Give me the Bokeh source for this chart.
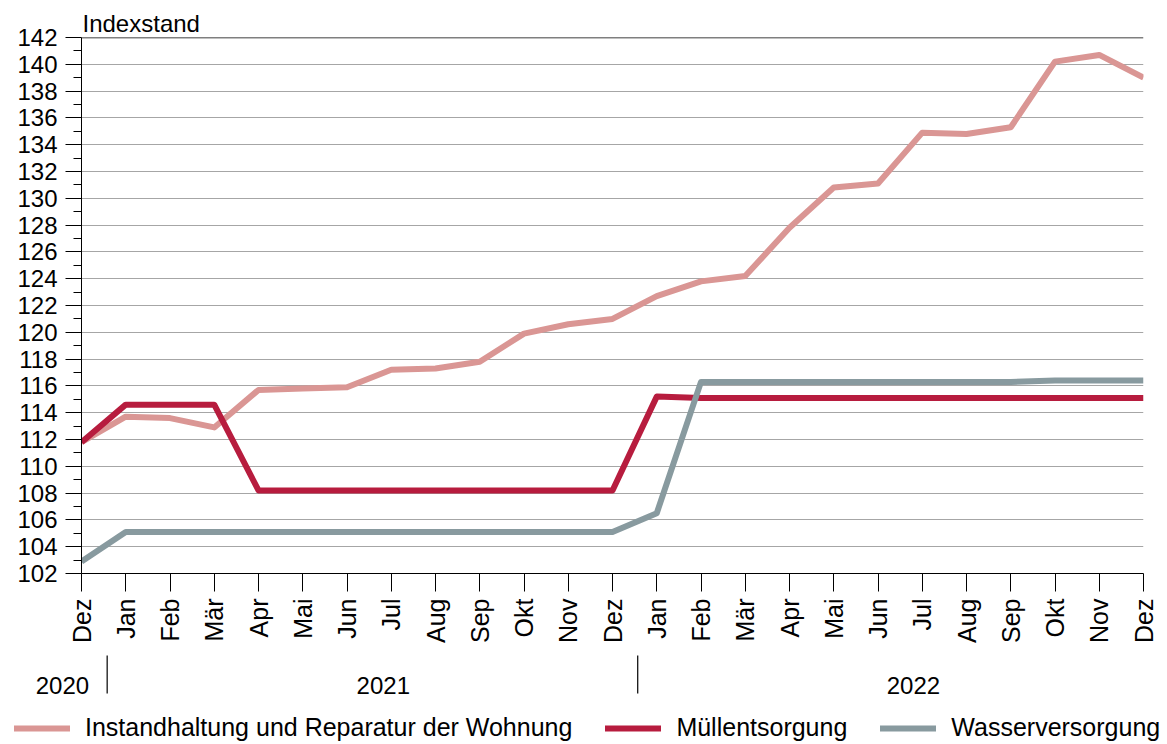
import math
from bokeh.plotting import figure
from bokeh.models import (Range1d, FixedTicker, Legend, LegendItem, Span, LinearAxis, Grid)
from bokeh.core.properties import value
from bokeh.embed import file_html
from bokeh.resources import INLINE

months = ["Dez", "Jan", "Feb", "Mär", "Apr", "Mai", "Jun", "Jul", "Aug", "Sep", "Okt", "Nov",
          "Dez", "Jan", "Feb", "Mär", "Apr", "Mai", "Jun", "Jul", "Aug", "Sep", "Okt", "Nov", "Dez"]
years = ["2020", "2021", "2022"]
y_ticks = [102, 104, 106, 108, 110, 112, 114, 116, 118, 120, 122, 124, 126, 128, 130,
           132, 134, 136, 138, 140, 142]

instandhaltung = [111.8, 113.7, 113.6, 112.9, 115.7, 115.8, 115.9, 117.2, 117.3, 117.8,
                  119.9, 120.6, 121.0, 122.7, 123.8, 124.2, 127.8, 130.8, 131.1, 134.9,
                  134.8, 135.3, 140.2, 140.7, 139.0]
muell = [111.8, 114.6, 114.6, 114.6, 108.2, 108.2, 108.2, 108.2, 108.2, 108.2, 108.2, 108.2,
         108.2, 115.2, 115.1, 115.1, 115.1, 115.1, 115.1, 115.1, 115.1, 115.1, 115.1, 115.1, 115.1]
wasser = [102.9, 105.1, 105.1, 105.1, 105.1, 105.1, 105.1, 105.1, 105.1, 105.1, 105.1, 105.1,
          105.1, 106.5, 116.3, 116.3, 116.3, 116.3, 116.3, 116.3, 116.3, 116.3, 116.4, 116.4, 116.4]

names = ["Instandhaltung und Reparatur der Wohnung", "Müllentsorgung", "Wasserversorgung"]
colors = ["#DA9694", "#B71C3E", "#889A9F"]
series = [instandhaltung, muell, wasser]

FONT = "Liberation Sans"

x = list(range(len(months)))

W = 1167
FL, FR, FT, FB = 81, 1143, 37, 573   # frame edges on the page
H1 = 648
H2 = 744 - H1

p = figure(width=W, height=H1, output_backend="svg", toolbar_location=None,
           x_range=Range1d(0, len(months) - 1), y_range=Range1d(y_ticks[0], y_ticks[-1]),
           min_border_left=FL, min_border_right=W - FR, min_border_top=FT,
           min_border_bottom=H1 - FB, x_axis_type=None, y_axis_type=None)
p.outline_line_color = None

p.title.text = "Indexstand"
p.title.align = "left"
p.title.text_font = FONT
p.title.text_font_size = "24px"
p.title.text_font_style = "normal"
p.title.text_color = "black"
p.title.standoff = 2
p.title.offset = 1

# y axis
yax = LinearAxis(ticker=FixedTicker(ticks=y_ticks, minor_ticks=[v + 1 for v in y_ticks[:-1]]))
yax.major_tick_out = 16
yax.major_tick_in = 0
yax.minor_tick_out = 8
yax.minor_tick_in = 0
yax.axis_line_color = "black"
yax.major_tick_line_color = "black"
yax.minor_tick_line_color = "black"
yax.major_label_text_font = FONT
yax.major_label_text_font_size = "24px"
yax.major_label_text_color = "black"
yax.major_label_standoff = 8
p.add_layout(yax, "left")

# x axis
xax = LinearAxis(ticker=FixedTicker(ticks=x, minor_ticks=[]))
xax.major_label_overrides = {i: m for i, m in enumerate(months)}
xax.major_label_orientation = math.pi / 2
xax.major_tick_out = 18
xax.major_tick_in = 0
xax.axis_line_color = "black"
xax.major_tick_line_color = "black"
xax.major_label_text_font = FONT
xax.major_label_text_font_size = "25px"
xax.major_label_text_color = "black"
xax.major_label_standoff = 7
p.add_layout(xax, "below")

g = Grid(dimension=1, ticker=FixedTicker(ticks=y_ticks[1:-1]))
g.grid_line_color = "#A6A6A6"
g.grid_line_width = 1.2
p.add_layout(g)
p.add_layout(Span(location=y_ticks[-1], dimension="width", line_color="black", line_width=1.5))

for ys, c in zip(series, colors):
    p.line(x, ys, line_color=c, line_width=6, line_join="round")

# second strip: year row and legend, sharing the same horizontal scale
px_per = (FR - FL) / (len(months) - 1)
p2 = figure(width=W, height=H2, output_backend="svg", toolbar_location=None,
            x_range=Range1d(-FL / px_per, (W - FL) / px_per), y_range=Range1d(0, H2),
            min_border=0, min_border_left=0, min_border_right=0, min_border_top=0,
            min_border_bottom=0, x_axis_type=None, y_axis_type=None)
p2.outline_line_color = None
p2.xgrid.visible = False
p2.ygrid.visible = False

def yp(page_y):
    return 744 - page_y

year_x = [-0.43, 6.82, 18.8]
p2.text(x=year_x, y=[yp(685)] * 3, text=years, text_font=value(FONT), text_font_size="24px",
        text_align="center", text_baseline="middle", text_color="black")
sep_x = [0.58, 12.57]
p2.segment(x0=sep_x, y0=[yp(655)] * 2, x1=sep_x, y1=[yp(693)] * 2, line_color="black",
           line_width=1.2)

# legend renderers: same series, lying above this strip's visible range
dummies = [p2.line(x, ys, line_color=c, line_width=6, line_cap="round")
           for ys, c in zip(series, colors)]
items = [LegendItem(label=n, renderers=[r]) for n, r in zip(names, dummies)]
legend = Legend(items=items, orientation="horizontal", location=(14, yp(730) - 12))
legend.glyph_width = 56
legend.glyph_height = 24
legend.label_height = 24
legend.label_standoff = 15
legend.spacing = 33
legend.padding = 0
legend.margin = 0
legend.border_line_color = None
legend.background_fill_alpha = 0
legend.label_text_font = FONT
legend.label_text_font_size = "25px"
legend.label_text_color = "black"
legend.label_text_baseline = "middle"
p2.add_layout(legend, "center")

open("out.html", "w").write(file_html([p, p2], INLINE))
